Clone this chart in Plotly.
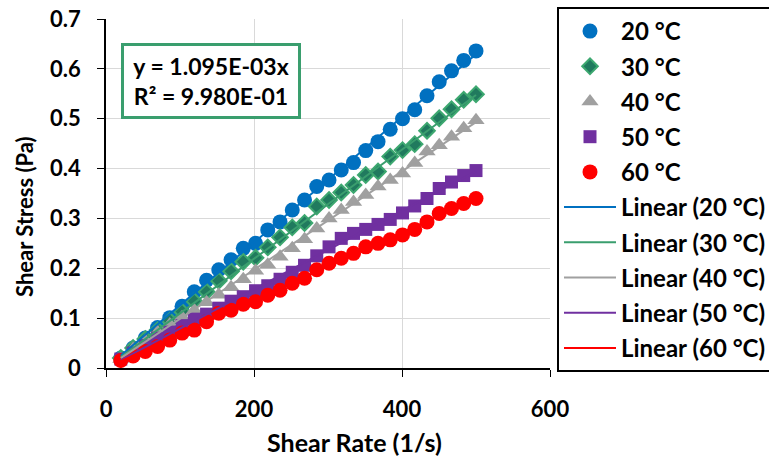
import numpy as np
import plotly.graph_objects as go

# Shear rate (1/s) for every measured point
shear_rate = [20.0, 36.6, 53.1, 69.7, 86.2, 102.8, 119.3, 135.9, 152.4, 169.0,
              185.5, 202.1, 218.6, 235.2, 251.7, 268.3, 284.8, 301.4, 317.9, 334.5,
              351.0, 367.6, 384.1, 400.7, 417.2, 433.8, 450.3, 466.9, 483.4, 500.0]

# Shear stress (Pa) at each temperature
stress_20 = [0.020, 0.040, 0.060, 0.081, 0.101, 0.124, 0.153, 0.176, 0.197, 0.217,
             0.240, 0.250, 0.277, 0.293, 0.317, 0.337, 0.364, 0.377, 0.397, 0.412,
             0.436, 0.454, 0.479, 0.500, 0.518, 0.546, 0.574, 0.596, 0.617, 0.636]
stress_30 = [0.020, 0.040, 0.058, 0.076, 0.095, 0.113, 0.134, 0.153, 0.175, 0.194,
             0.213, 0.221, 0.242, 0.262, 0.282, 0.291, 0.324, 0.337, 0.352, 0.367,
             0.387, 0.394, 0.424, 0.437, 0.449, 0.476, 0.501, 0.519, 0.538, 0.549]
stress_40 = [0.018, 0.038, 0.055, 0.072, 0.087, 0.102, 0.116, 0.132, 0.147, 0.162,
             0.178, 0.195, 0.207, 0.223, 0.240, 0.258, 0.280, 0.300, 0.317, 0.333,
             0.347, 0.364, 0.377, 0.390, 0.411, 0.434, 0.447, 0.464, 0.481, 0.497]
stress_50 = [0.018, 0.030, 0.045, 0.060, 0.072, 0.085, 0.098, 0.108, 0.120, 0.134,
             0.143, 0.155, 0.165, 0.178, 0.192, 0.206, 0.225, 0.243, 0.260, 0.270,
             0.278, 0.288, 0.298, 0.311, 0.325, 0.340, 0.360, 0.373, 0.386, 0.396]
stress_60 = [0.015, 0.024, 0.033, 0.043, 0.056, 0.070, 0.076, 0.093, 0.110, 0.116,
             0.128, 0.133, 0.146, 0.156, 0.170, 0.180, 0.197, 0.210, 0.220, 0.230,
             0.243, 0.250, 0.257, 0.267, 0.278, 0.293, 0.310, 0.320, 0.330, 0.340]

temperatures = ["20 °C", "30 °C", "40 °C", "50 °C", "60 °C"]
series = [stress_20, stress_30, stress_40, stress_50, stress_60]

# Fitted trendline for 30 °C (through the origin), as printed on the chart
slope_30 = 1.095e-03
r2_30 = 9.980e-01

x_ticks = [0, 200, 400, 600]
y_ticks = [0, 0.1, 0.2, 0.3, 0.4, 0.5, 0.6, 0.7]

FONT = "Lato"
marker_styles = [
    dict(symbol="circle", color="#0070C0", size=15),
    dict(symbol="diamond", color="#207A5E", size=12, line=dict(color="#3DA870", width=2)),
    dict(symbol="triangle-up", color="#A0A0A0", size=15),
    dict(symbol="square", color="#7030A0", size=13),
    dict(symbol="circle", color="#FF0000", size=15),
]
line_colors = ["#0070C0", "#3A9E6E", "#A0A0A0", "#7030A0", "#FF0000"]

fig = go.Figure()

x = np.array(shear_rate)
for i, (name, ys) in enumerate(zip(temperatures, series)):
    fig.add_trace(go.Scatter(
        x=shear_rate, y=ys, mode="markers", name=name,
        marker=marker_styles[i], legendgroup=f"m{i}",
    ))

# Linear trendlines through the origin, spanning the measured range
for i, (name, ys) in enumerate(zip(temperatures, series)):
    y = np.array(ys)
    m = slope_30 if i == 1 else float((x * y).sum() / (x * x).sum())
    xs = [x.min(), x.max()]
    fig.add_trace(go.Scatter(
        x=xs, y=[m * v for v in xs], mode="lines", name=f"Linear ({name})",
        line=dict(color=line_colors[i], width=2), legendgroup=f"l{i}",
    ))

# Plot-area geometry in pixels
W, H = 769, 459
L, R, T, B = 106, 550, 19, 368
pw, ph = R - L, B - T

def px_x(p):
    return (p - L) / pw

def px_y(p):
    return (B - p) / ph

axis_common = dict(
    showline=True, linecolor="black", linewidth=1.5,
    ticks="outside", ticklen=7, tickcolor="black", tickwidth=1.2,
    showgrid=True, gridcolor="#D9D9D9", gridwidth=1,
    zeroline=False,
    tickfont=dict(family=FONT, size=22, color="black", weight="bold"),
)

fig.update_layout(
    width=W, height=H,
    margin=dict(l=L, r=W - R, t=T, b=H - B, autoexpand=False),
    paper_bgcolor="white", plot_bgcolor="white",
    xaxis=dict(range=[0, 600], tickvals=x_ticks, ticklabelstandoff=14, **axis_common),
    yaxis=dict(range=[0, 0.7], tickvals=y_ticks, ticktext=[f"{v:g}" for v in y_ticks],
               ticklabelstandoff=12, **axis_common),
    showlegend=True,
    legend=dict(
        x=px_x(557), y=px_y(7), xanchor="left", yanchor="top",
        xref="paper", yref="paper", maxheight=440,
        bordercolor="black", borderwidth=2, bgcolor="white",
        font=dict(family=FONT, size=24, color="black", weight="bold"),
        tracegroupgap=1, itemwidth=52,
    ),
    annotations=[
        dict(text=f"y = {slope_30:.3E}x<br>R² = {r2_30:.3E}",
             xref="paper", yref="paper", x=px_x(121), y=px_y(43),
             xanchor="left", yanchor="top", showarrow=False, align="center",
             font=dict(family=FONT, size=23, color="black", weight="bold"),
             bordercolor="#3A9E6E", borderwidth=3, borderpad=4, bgcolor="white",
             width=166, height=62),
        dict(text="Shear Rate (1/s)", xref="paper", yref="paper",
             x=px_x(354), y=px_y(442), xanchor="center", yanchor="middle",
             showarrow=False, font=dict(family=FONT, size=25, color="black", weight="bold")),
        dict(text="Shear Stress (Pa)", xref="paper", yref="paper",
             x=px_x(24), y=px_y(217), xanchor="center", yanchor="middle", textangle=-90,
             showarrow=False, font=dict(family=FONT, size=22, color="black", weight="bold")),
    ],
)

fig.write_html("out.html")
